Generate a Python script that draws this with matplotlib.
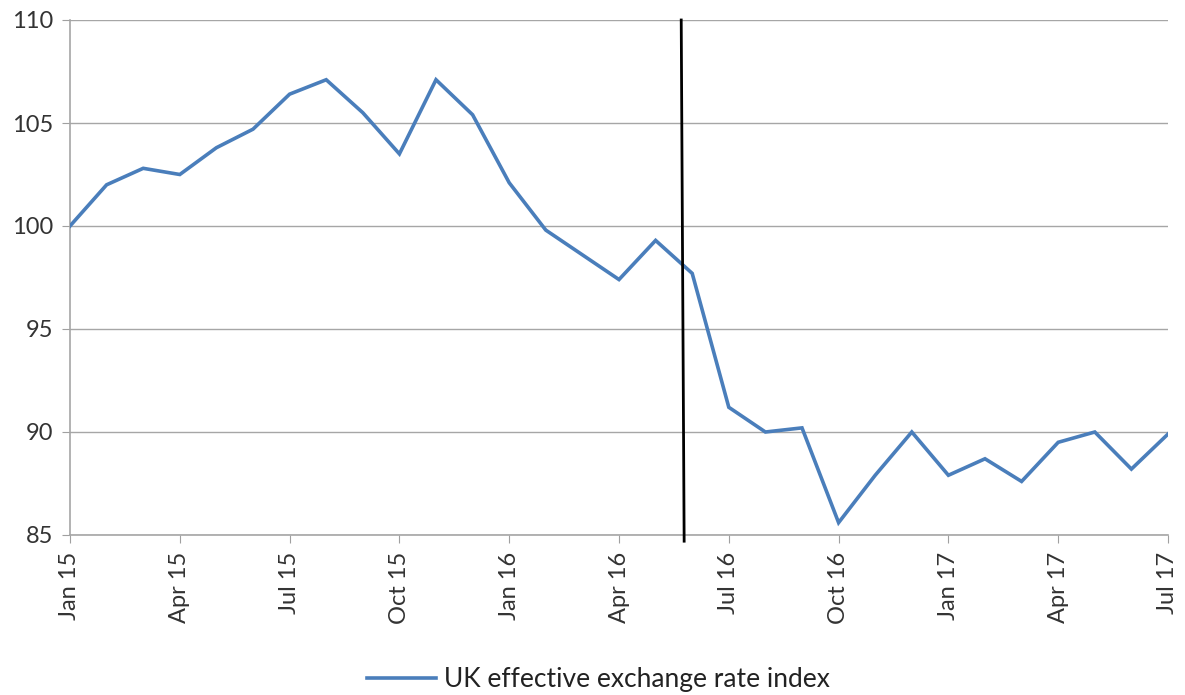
import numpy as np
import matplotlib.pyplot as plt

plt.rcParams['font.family'] = ['Lato', 'DejaVu Sans']

# monthly index, Jan 2015 = 100
months = ["Jan 15", "Feb 15", "Mar 15", "Apr 15", "May 15", "Jun 15", "Jul 15", "Aug 15",
          "Sep 15", "Oct 15", "Nov 15", "Dec 15", "Jan 16", "Feb 16", "Mar 16", "Apr 16",
          "May 16", "Jun 16", "Jul 16", "Aug 16", "Sep 16", "Oct 16", "Nov 16", "Dec 16",
          "Jan 17", "Feb 17", "Mar 17", "Apr 17", "May 17", "Jun 17", "Jul 17"]
eer_index = [100.0, 102.0, 102.8, 102.5, 103.8, 104.7, 106.4, 107.1,
             105.5, 103.5, 107.1, 105.4, 102.1, 99.8, 98.6, 97.4,
             99.3, 97.7, 91.2, 90.0, 90.2, 85.6, 87.9, 90.0,
             87.9, 88.7, 87.6, 89.5, 90.0, 88.2, 89.9]
referendum_pos = 16.7  # 23 June 2016

x = np.arange(len(months))

fig = plt.figure(figsize=(11.85, 6.95), dpi=100)
ax = fig.add_axes([70 / 1185, 1 - 535 / 695, (1168 - 70) / 1185, (535 - 20) / 695])

ax.plot(x, eer_index, color='#4a7ebb', lw=2.6, label='UK effective exchange rate index',
        solid_joinstyle='miter', zorder=3)
ax.plot([referendum_pos, referendum_pos + 0.08], [110, 84.7], color='black', lw=2,
        clip_on=False, zorder=4)

ax.set_xlim(0, len(months) - 1)
ax.set_ylim(85, 110)
ax.set_yticks(np.arange(85, 111, 5))
ax.set_xticks(x[::3])
ax.set_xticklabels(months[::3], rotation=90, fontsize=17, color='#333333')
ax.tick_params(axis='y', labelsize=17, labelcolor='#333333', length=6, color='#a0a0a0', pad=6)
ax.tick_params(axis='x', length=6, color='#a0a0a0', pad=6)

ax.grid(axis='y', color='#a6a6a6', lw=1)
ax.set_axisbelow(True)
for s in ['top', 'right']:
    ax.spines[s].set_visible(False)
for s in ['left', 'bottom']:
    ax.spines[s].set_color('#a6a6a6')
    ax.spines[s].set_linewidth(1.2)

fig.legend(loc='center', bbox_to_anchor=(0.505, 1 - 680 / 695), frameon=False,
           fontsize=19, handlelength=2.6, handletextpad=0.3, labelcolor='#222222')

fig.savefig('out.png', dpi=100, facecolor='white')
